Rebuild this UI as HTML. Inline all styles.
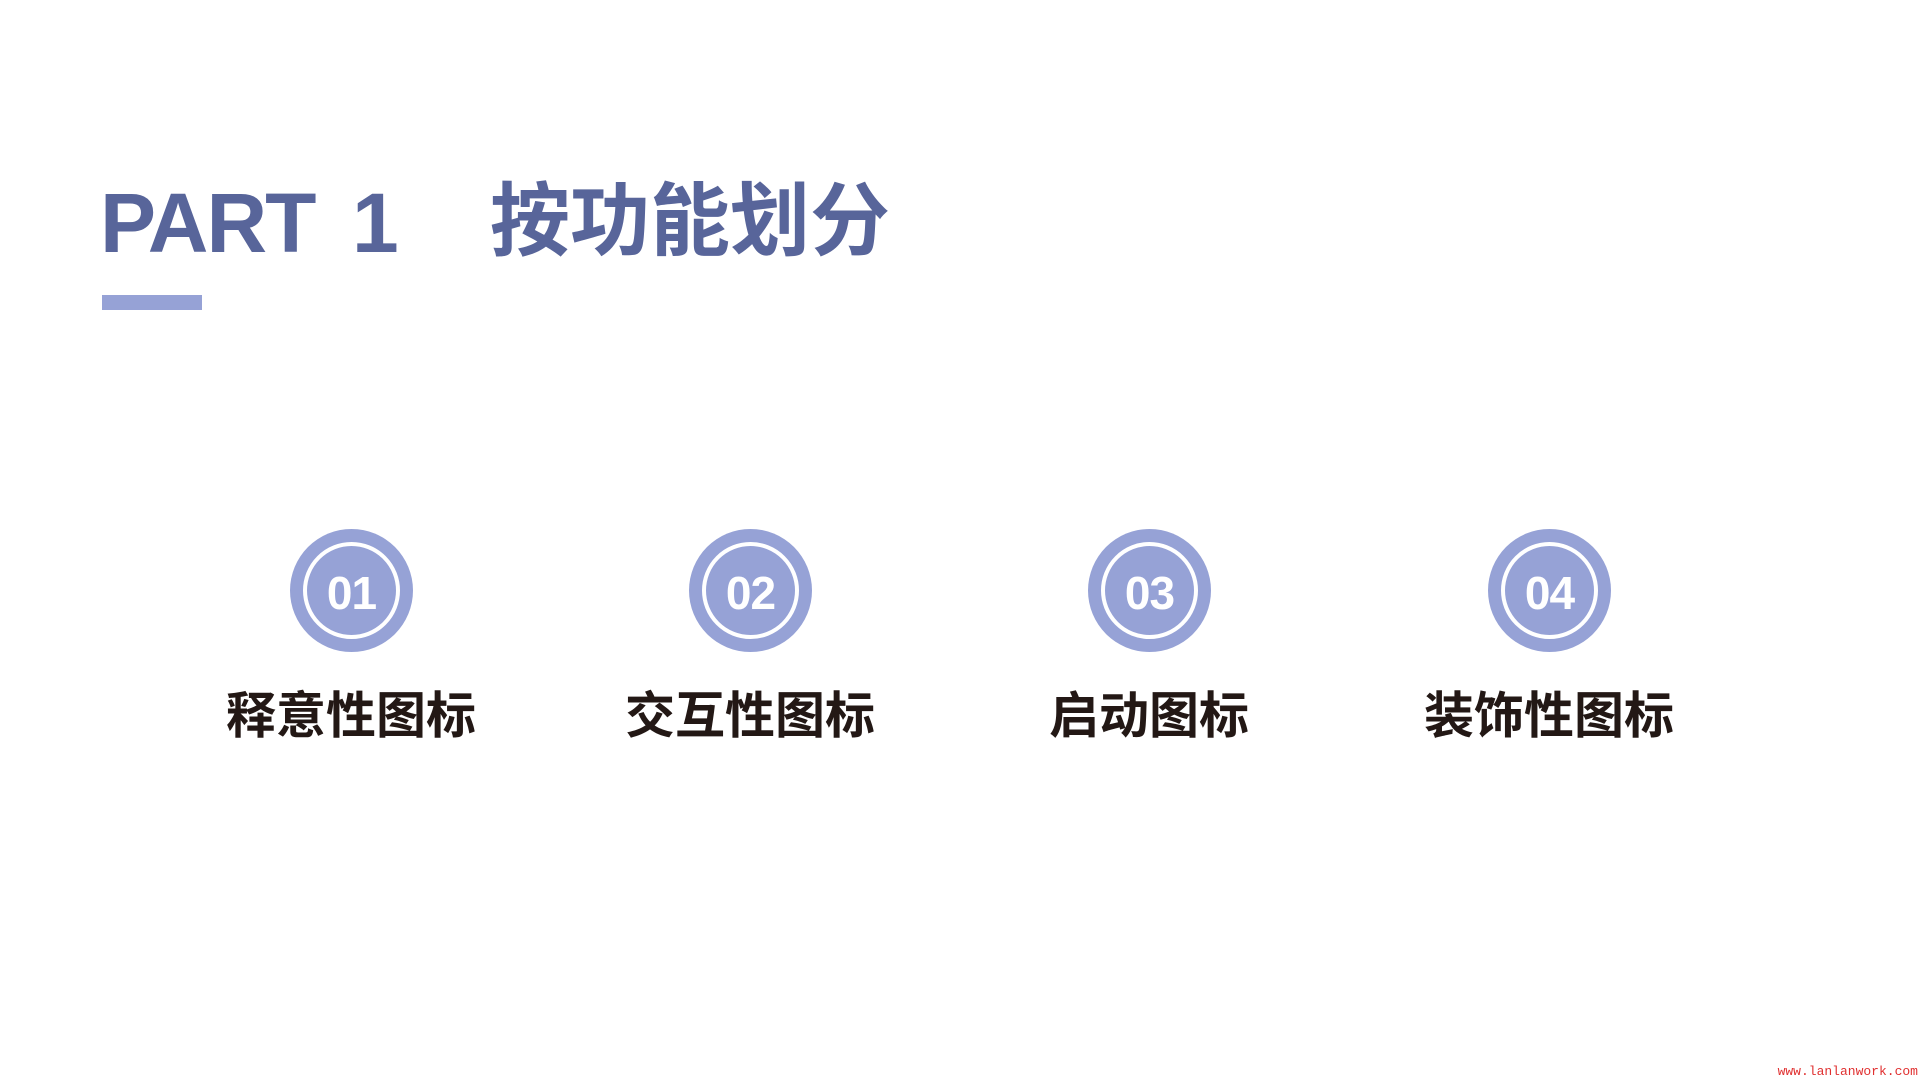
<!DOCTYPE html>
<html><head><meta charset="utf-8"><style>
body{margin:0;width:1920px;height:1080px;background:#fff;position:relative;overflow:hidden;font-family:"Liberation Sans","Noto Sans CJK SC",sans-serif}
.t{position:absolute;color:#58659a;font-weight:bold;white-space:nowrap}
.c{position:absolute;width:123px;height:123px;border-radius:50%;background:#96a2d6}
.c::after{content:"";position:absolute;left:13px;top:13px;width:89px;height:89px;border:4px solid #fff;border-radius:50%}
.c span{position:absolute;left:0;right:0;top:3px;line-height:123px;text-align:center;color:#fff;font-weight:bold;font-size:46px;letter-spacing:-1px}
.l{position:absolute;width:300px;text-align:center;font-size:50px;font-weight:bold;color:#231815;top:686px;line-height:60px}
</style></head><body>
<div class="t" style="left:100px;top:173px;font-size:84px;line-height:100px;letter-spacing:-2px">PART</div>
<div class="t" style="left:352px;top:173px;font-size:84px;line-height:100px">1</div>
<div class="t" style="left:490px;top:172px;font-size:80px;line-height:100px">按功能划分</div>
<div style="position:absolute;left:102px;top:295px;width:100px;height:15px;background:#96a2d6"></div>
<div class="c" style="left:290px;top:529px"><span>01</span></div>
<div class="c" style="left:689px;top:529px"><span>02</span></div>
<div class="c" style="left:1088px;top:529px"><span>03</span></div>
<div class="c" style="left:1488px;top:529px"><span>04</span></div>
<div class="l" style="left:201px">释意性图标</div>
<div class="l" style="left:600px">交互性图标</div>
<div class="l" style="left:999px">启动图标</div>
<div class="l" style="left:1399px">装饰性图标</div>
<div style="position:absolute;right:2px;top:1064px;font-family:'Liberation Mono',monospace;font-size:13px;color:#e03030">www.lanlanwork.com</div>
</body></html>
